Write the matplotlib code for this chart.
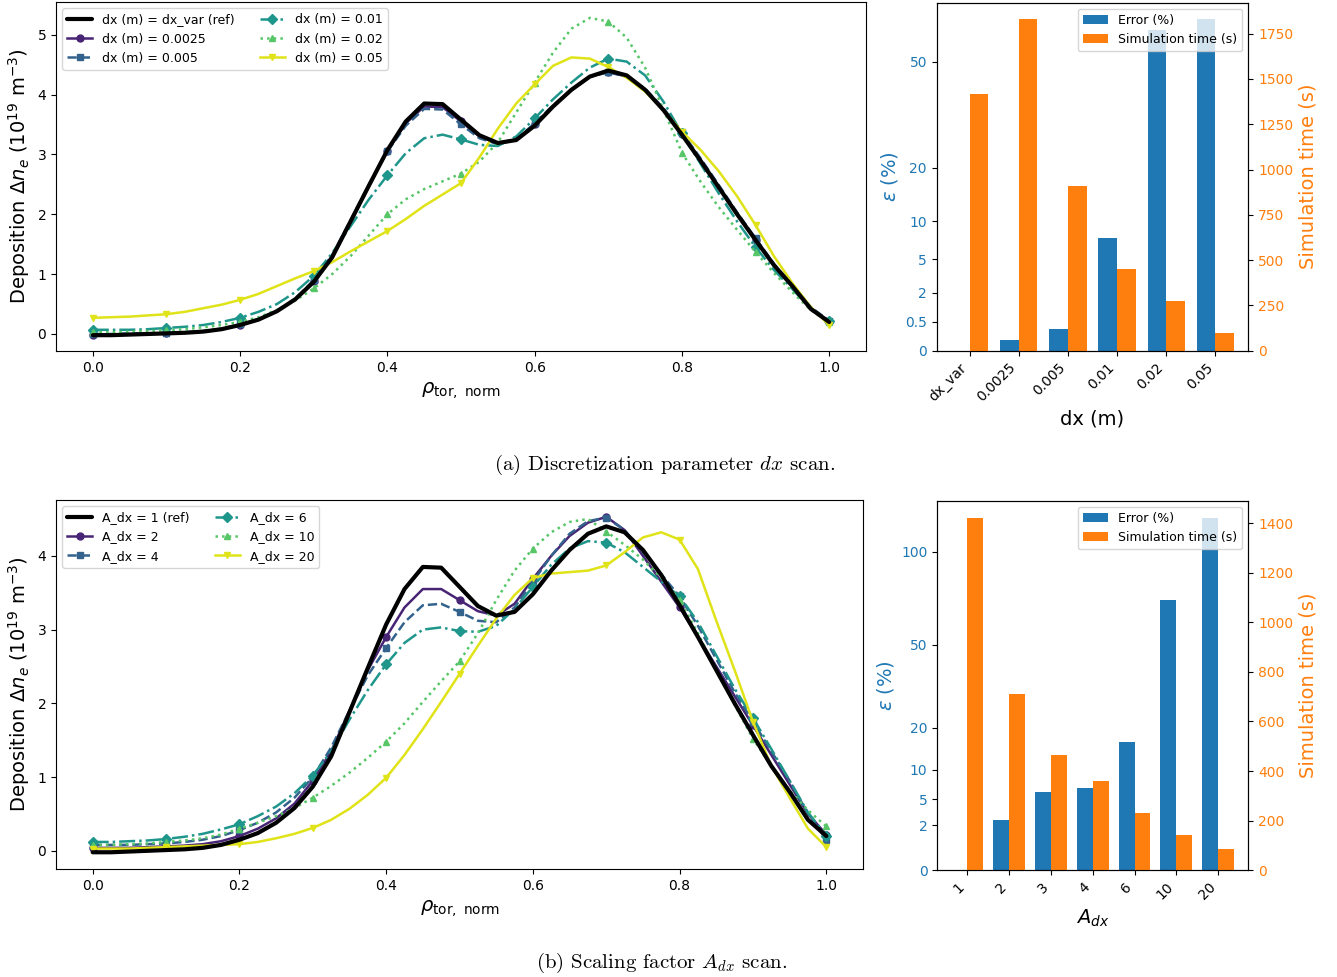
import numpy as np
import matplotlib
matplotlib.use("Agg")
import matplotlib.pyplot as plt

# radial grid (every 0.025); markers shown every 0.1
rho = np.linspace(0.0, 1.0, 41)

ref = [-0.02, -0.02, -0.01, 0.0, 0.01, 0.02, 0.04, 0.08, 0.15, 0.24, 0.38,
       0.58, 0.87, 1.28, 1.88, 2.48, 3.07, 3.55, 3.85, 3.84, 3.58, 3.32, 3.19,
       3.24, 3.48, 3.8, 4.08, 4.3, 4.4, 4.32, 4.08, 3.74, 3.33, 2.9, 2.45,
       2.0, 1.57, 1.15, 0.8, 0.42, 0.2]

# (a) dx scan
dx_0025 = [-0.01, -0.01, 0.0, 0.0, 0.01, 0.02, 0.04, 0.08, 0.15, 0.24, 0.38,
           0.58, 0.88, 1.3, 1.88, 2.48, 3.06, 3.52, 3.8, 3.79, 3.55, 3.3, 3.18,
           3.25, 3.5, 3.8, 4.07, 4.3, 4.38, 4.3, 4.07, 3.74, 3.34, 2.91, 2.46,
           2.01, 1.57, 1.15, 0.8, 0.43, 0.2]
dx_005 = [0.0, 0.0, 0.01, 0.01, 0.02, 0.03, 0.05, 0.09, 0.16, 0.25, 0.39,
          0.59, 0.9, 1.32, 1.9, 2.5, 3.05, 3.48, 3.76, 3.75, 3.5, 3.27, 3.17,
          3.25, 3.52, 3.82, 4.08, 4.3, 4.37, 4.3, 4.1, 3.77, 3.37, 2.94, 2.49,
          2.03, 1.6, 1.17, 0.8, 0.45, 0.22]
dx_01 = [0.07, 0.07, 0.07, 0.08, 0.1, 0.12, 0.15, 0.2, 0.27, 0.37, 0.5,
         0.7, 0.97, 1.35, 1.8, 2.25, 2.65, 3.02, 3.27, 3.33, 3.25, 3.16, 3.14,
         3.3, 3.6, 3.92, 4.2, 4.45, 4.6, 4.55, 4.32, 3.88, 3.35, 2.85, 2.35,
         1.88, 1.45, 1.07, 0.75, 0.42, 0.22]
dx_02 = [0.03, 0.03, 0.04, 0.05, 0.06, 0.08, 0.11, 0.15, 0.2, 0.28, 0.4,
         0.56, 0.76, 1.0, 1.3, 1.65, 2.0, 2.25, 2.42, 2.55, 2.68, 2.88, 3.2,
         3.7, 4.2, 4.7, 5.1, 5.28, 5.22, 4.95, 4.45, 3.75, 3.03, 2.55, 2.12,
         1.74, 1.37, 1.02, 0.7, 0.4, 0.2]
dx_05 = [0.27, 0.28, 0.29, 0.31, 0.33, 0.37, 0.43, 0.49, 0.57, 0.67, 0.8,
         0.93, 1.05, 1.2, 1.38, 1.55, 1.72, 1.92, 2.14, 2.33, 2.52, 2.95, 3.43,
         3.85, 4.17, 4.48, 4.62, 4.6, 4.46, 4.28, 4.05, 3.74, 3.38, 3.08, 2.72,
         2.3, 1.82, 1.3, 0.85, 0.45, 0.15]

# (b) A_dx scan
a_2 = [0.04, 0.04, 0.04, 0.05, 0.06, 0.07, 0.09, 0.13, 0.2, 0.3, 0.44,
       0.64, 0.95, 1.35, 1.9, 2.45, 2.9, 3.3, 3.55, 3.55, 3.4, 3.25, 3.19,
       3.35, 3.69, 4.0, 4.27, 4.45, 4.53, 4.35, 4.0, 3.65, 3.3, 2.9, 2.5,
       2.1, 1.7, 1.3, 0.9, 0.5, 0.22]
a_4 = [0.08, 0.08, 0.08, 0.09, 0.1, 0.12, 0.15, 0.2, 0.28, 0.38, 0.52,
       0.72, 1.0, 1.4, 1.9, 2.38, 2.75, 3.1, 3.33, 3.35, 3.24, 3.12, 3.1,
       3.3, 3.65, 4.0, 4.3, 4.47, 4.52, 4.35, 4.05, 3.75, 3.45, 3.05, 2.6,
       2.15, 1.75, 1.35, 0.95, 0.5, 0.15]
a_6 = [0.12, 0.12, 0.13, 0.14, 0.16, 0.19, 0.23, 0.29, 0.36, 0.47, 0.6,
       0.78, 1.02, 1.35, 1.78, 2.18, 2.53, 2.82, 3.0, 3.03, 2.98, 2.97, 3.05,
       3.28, 3.58, 3.88, 4.1, 4.2, 4.18, 4.05, 3.85, 3.65, 3.45, 3.1, 2.65,
       2.2, 1.8, 1.38, 0.95, 0.52, 0.2]
a_10 = [0.08, 0.08, 0.09, 0.1, 0.12, 0.14, 0.17, 0.22, 0.3, 0.38, 0.47,
        0.58, 0.72, 0.88, 1.06, 1.26, 1.48, 1.73, 2.02, 2.3, 2.57, 2.95, 3.4,
        3.8, 4.1, 4.32, 4.46, 4.5, 4.33, 4.15, 3.95, 3.7, 3.4, 2.95, 2.45,
        1.98, 1.52, 1.15, 0.82, 0.55, 0.33]
a_20 = [0.03, 0.03, 0.03, 0.04, 0.05, 0.06, 0.07, 0.08, 0.09, 0.12, 0.17,
        0.23, 0.31, 0.42, 0.57, 0.76, 0.99, 1.3, 1.65, 2.02, 2.4, 2.78, 3.15,
        3.47, 3.7, 3.76, 3.78, 3.8, 3.87, 4.05, 4.25, 4.32, 4.22, 3.82, 3.12,
        2.45, 1.75, 1.15, 0.72, 0.3, 0.05]

dx_labels = ["dx (m) = dx_var (ref)", "dx (m) = 0.0025", "dx (m) = 0.005",
             "dx (m) = 0.01", "dx (m) = 0.02", "dx (m) = 0.05"]
a_labels = ["A_dx = 1 (ref)", "A_dx = 2", "A_dx = 4", "A_dx = 6",
            "A_dx = 10", "A_dx = 20"]

# bar charts
dx_cats = ["dx_var", "0.0025", "0.005", "0.01", "0.02", "0.05"]
dx_err = [0.0, 0.068, 0.28, 7.6, 61.7, 65.7]
dx_time = [1419, 1829, 908, 450, 274, 99]

a_cats = ["1", "2", "3", "4", "6", "10", "20"]
a_err = [0.0, 2.5, 6.0, 6.7, 16.2, 72.0, 122.0]
a_time = [1419, 711, 465, 360, 231, 142, 86]

colors = plt.cm.viridis(np.linspace(0.1, 0.95, 5))
styles = [("-", "o"), ("--", "s"), ("-.", "D"), (":", "^"), ("-", "v")]


def line_panel(ax, curves, labels):
    ax.plot(rho, ref, color="black", lw=3, label=labels[0], zorder=4,
            solid_joinstyle="round", solid_capstyle="round")
    for y, c, (ls, mk), lab in zip(curves, colors, styles, labels[1:]):
        ax.plot(rho, y, ls=ls, marker=mk, markevery=4, ms=5, lw=1.8,
                color=c, label=lab, solid_joinstyle="round")
    ax.set_xlabel(r"$\rho_{\mathrm{tor,\ norm}}$", fontsize=14)
    ax.set_ylabel(r"Deposition $\mathit{\Delta} n_e$ ($10^{19}$ m$^{-3}$)",
                  fontsize=14)
    ax.set_xticks([0.0, 0.2, 0.4, 0.6, 0.8, 1.0])
    ax.legend(loc="upper left", ncol=2, fontsize=9)


def fwd(v):
    return np.sqrt(np.clip(v, 0, None))


def inv(v):
    return np.square(v)


def bar_panel(ax, cats, err, time, yticks, xlabel):
    w = 0.38
    x = np.arange(len(cats))
    b1 = ax.bar(x - w / 2, err, w, color="tab:blue", label="Error (%)")
    ax.set_yscale("function", functions=(fwd, inv))
    ax.set_yticks(yticks, labels=[f"{t:g}" for t in yticks])
    ax.set_ylabel(r"$\varepsilon$ (%)", color="tab:blue", fontsize=14)
    ax.tick_params(axis="y", labelcolor="tab:blue")
    ax.set_xticks(x, labels=cats, rotation=45, ha="right")
    ax.set_xlabel(xlabel, fontsize=14)
    ax2 = ax.twinx()
    b2 = ax2.bar(x + w / 2, time, w, color="tab:orange",
                 label="Simulation time (s)")
    ax2.set_ylabel("Simulation time (s)", color="tab:orange", fontsize=14)
    ax2.tick_params(axis="y", labelcolor="tab:orange")
    ax2.legend(handles=[b1, b2], loc="upper right", fontsize=9)


fig = plt.figure(figsize=(13.37, 9.77), dpi=100)

ax_a = fig.add_axes([0.0419, 0.6407, 0.6058, 0.3572])
line_panel(ax_a, [dx_0025, dx_005, dx_01, dx_02, dx_05], dx_labels)

ax_ab = fig.add_axes([0.7006, 0.6410, 0.2331, 0.3562])
bar_panel(ax_ab, dx_cats, dx_err, dx_time, [0, 0.5, 2, 5, 10, 20, 50], "dx (m)")

ax_b = fig.add_axes([0.0419, 0.1105, 0.6036, 0.3777])
line_panel(ax_b, [a_2, a_4, a_6, a_10, a_20], a_labels)

ax_bb = fig.add_axes([0.7010, 0.1092, 0.2326, 0.3783])
bar_panel(ax_bb, a_cats, a_err, a_time, [0, 2, 5, 10, 20, 50, 100], r"$A_{dx}$")

fig.text(0.497, 1 - 465 / 977, r"(a) Discretization parameter $dx$ scan.",
         fontfamily="cmr10", math_fontfamily="cm", fontsize=15,
         ha="center", va="center")
fig.text(0.495, 1 - 963 / 977, r"(b) Scaling factor $A_{dx}$ scan.",
         fontfamily="cmr10", math_fontfamily="cm", fontsize=15,
         ha="center", va="center")

fig.savefig("out.png", dpi=100)
